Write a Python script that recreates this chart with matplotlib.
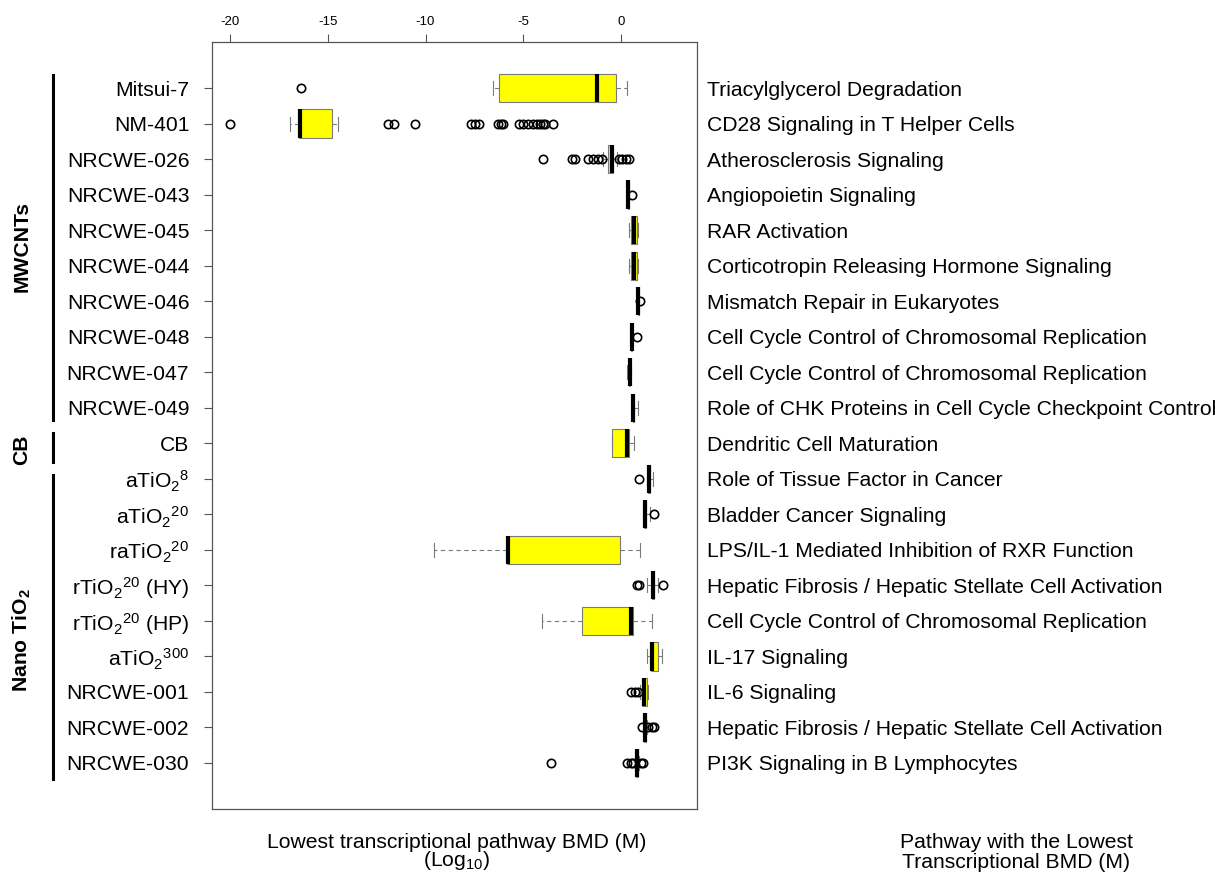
import matplotlib
matplotlib.use("Agg")
import matplotlib.pyplot as plt
from matplotlib.lines import Line2D
import numpy as np

plt.rcParams['font.family'] = ['Liberation Sans', 'DejaVu Sans']
plt.rcParams['mathtext.fontset'] = 'custom'
plt.rcParams['mathtext.rm'] = 'Liberation Sans'
plt.rcParams['mathtext.it'] = 'Liberation Sans:italic'
plt.rcParams['mathtext.bf'] = 'Liberation Sans:bold'

# Materials (top to bottom)
materials = [
    'Mitsui-7', 'NM-401', 'NRCWE-026', 'NRCWE-043', 'NRCWE-045',
    'NRCWE-044', 'NRCWE-046', 'NRCWE-048', 'NRCWE-047', 'NRCWE-049',
    'CB',
    r'aTiO$_\mathregular{2}$$^\mathregular{8}$',
    r'aTiO$_\mathregular{2}$$^\mathregular{20}$',
    r'raTiO$_\mathregular{2}$$^\mathregular{20}$',
    r'rTiO$_\mathregular{2}$$^\mathregular{20}$ (HY)',
    r'rTiO$_\mathregular{2}$$^\mathregular{20}$ (HP)',
    r'aTiO$_\mathregular{2}$$^\mathregular{300}$',
    'NRCWE-001', 'NRCWE-002', 'NRCWE-030',
]

# Pathway with the lowest transcriptional BMD for each material
pathways = [
    'Triacylglycerol Degradation',
    'CD28 Signaling in T Helper Cells',
    'Atherosclerosis Signaling',
    'Angiopoietin Signaling',
    'RAR Activation',
    'Corticotropin Releasing Hormone Signaling',
    'Mismatch Repair in Eukaryotes',
    'Cell Cycle Control of Chromosomal Replication',
    'Cell Cycle Control of Chromosomal Replication',
    'Role of CHK Proteins in Cell Cycle Checkpoint Control',
    'Dendritic Cell Maturation',
    'Role of Tissue Factor in Cancer',
    'Bladder Cancer Signaling',
    'LPS/IL-1 Mediated Inhibition of RXR Function',
    'Hepatic Fibrosis / Hepatic Stellate Cell Activation',
    'Cell Cycle Control of Chromosomal Replication',
    'IL-17 Signaling',
    'IL-6 Signaling',
    'Hepatic Fibrosis / Hepatic Stellate Cell Activation',
    'PI3K Signaling in B Lymphocytes',
]

# Box statistics of log10 BMD (M)
medians = [-1.21, -16.41, -0.46, 0.39, 0.70, 0.68, 0.90, 0.56, 0.48, 0.65,
           0.31, 1.45, 1.24, -5.79, 1.67, 0.53, 1.59, 1.19, 1.24, 0.82]
q1 = [-6.25, -16.50, -0.67, 0.37, 0.53, 0.53, 0.88, 0.54, 0.45, 0.63,
      -0.43, 1.40, 1.20, -5.84, 1.60, -2.00, 1.54, 1.11, 1.20, 0.78]
q3 = [-0.24, -14.79, -0.38, 0.41, 0.82, 0.82, 0.92, 0.58, 0.50, 0.67,
      0.43, 1.50, 1.30, -0.04, 1.72, 0.61, 1.93, 1.36, 1.30, 0.88]
whisker_low = [-6.56, -16.94, -0.89, 0.35, 0.44, 0.44, 0.86, 0.52, 0.30, 0.62,
               -0.43, 1.33, 1.15, -9.55, 1.36, -4.02, 1.33, 1.00, 1.15, 0.72]
whisker_high = [0.34, -14.50, -0.20, 0.43, 0.90, 0.90, 0.94, 0.60, 0.52, 0.87,
                0.68, 1.67, 1.50, 0.99, 1.93, 1.62, 2.13, 1.42, 1.35, 0.95]
outliers = [
    [-16.39],
    [-20.0, -11.91, -11.61, -10.54, -7.67, -7.46, -7.24, -6.27, -6.15, -6.01,
     -5.19, -4.99, -4.73, -4.48, -4.30, -4.13, -3.97, -3.88, -3.48],
    [-4.0, -2.47, -2.35, -1.66, -1.40, -1.14, -0.97, -0.07, 0.08, 0.26, 0.43],
    [0.58],
    [],
    [],
    [0.99],
    [0.85],
    [],
    [],
    [],
    [0.95],
    [1.72],
    [],
    [0.82, 0.95, 2.15],
    [],
    [],
    [0.51, 0.73, 0.90],
    [1.07, 1.41, 1.59, 1.72],
    [-3.57, 0.31, 0.51, 0.65, 1.04, 1.16],
]

x_ticks = [-20, -15, -10, -5, 0]

FS = 15.2
W, H = 1215, 873
fig = plt.figure(figsize=(W / 100, H / 100), dpi=100)
ax = fig.add_axes([212 / W, 1 - 809 / H, (697 - 212) / W, (809 - 42) / H])

stats = []
for i in range(len(materials)):
    stats.append(dict(med=medians[i], q1=q1[i], q3=q3[i],
                      whislo=whisker_low[i], whishi=whisker_high[i],
                      fliers=np.array(outliers[i])))

positions = np.arange(1, len(materials) + 1)
grey = '#7a7a7a'
ax.bxp(stats, positions=positions, vert=False, widths=0.8, capwidths=0.4,
       patch_artist=True, showfliers=True,
       boxprops=dict(facecolor='#ffff00', edgecolor=grey, linewidth=0.8),
       medianprops=dict(color='black', linewidth=3.0, solid_capstyle='butt'),
       whiskerprops=dict(color=grey, linewidth=0.8, linestyle=(0, (4, 3))),
       capprops=dict(color=grey, linewidth=0.8),
       flierprops=dict(marker='o', markerfacecolor='none', markeredgecolor='black',
                       markersize=6, markeredgewidth=1.2))

ax.set_xlim(-20.94, 3.91)
ax.set_ylim(len(materials) + 1.3, -0.3)

for s in ax.spines.values():
    s.set_color('#555555')
    s.set_linewidth(0.9)

ax.xaxis.tick_top()
ax.set_xticks(x_ticks)
ax.set_xticklabels([str(t) for t in x_ticks])
ax.tick_params(axis='x', which='both', top=True, bottom=False, length=5.8,
               width=0.8, color='#555555', labelsize=9.5, pad=4)

ax.set_yticks(positions)
ax.set_yticklabels(materials, fontsize=FS)
ax.tick_params(axis='y', length=5.8, width=0.8, color='#555555', pad=10.5)

ax2 = ax.twinx()
ax2.set_ylim(ax.get_ylim())
ax2.set_yticks(positions)
ax2.set_yticklabels(pathways, fontsize=FS)
ax2.tick_params(axis='y', length=0, pad=7)
for s in ax2.spines.values():
    s.set_visible(False)

# Group brackets and labels
bar_x = 53.3 / W
for y0, y1 in [(75, 420), (433, 462), (475, 779)]:
    fig.add_artist(Line2D([bar_x, bar_x], [1 - y0 / H, 1 - y1 / H],
                          color='black', linewidth=2.2,
                          transform=fig.transFigure))

fig.text(22 / W, 1 - 247 / H, 'MWCNTs', rotation=90, ha='center', va='center',
         fontsize=FS, fontweight='bold')
fig.text(22 / W, 1 - 450 / H, 'CB', rotation=90, ha='center', va='center',
         fontsize=FS, fontweight='bold')
fig.text(22 / W, 1 - 640 / H, r'Nano TiO$_\mathbf{2}$', rotation=90,
         ha='center', va='center', fontsize=FS, fontweight='bold')

fig.text(457 / W, 1 - 842 / H, 'Lowest transcriptional pathway BMD (M)',
         ha='center', va='center', fontsize=FS)
fig.text(457 / W, 1 - 861 / H, r'(Log$_\mathregular{10}$)',
         ha='center', va='center', fontsize=FS)
fig.text(1016 / W, 1 - 842 / H, 'Pathway with the Lowest',
         ha='center', va='center', fontsize=FS)
fig.text(1016 / W, 1 - 862 / H, 'Transcriptional BMD (M)',
         ha='center', va='center', fontsize=FS)

fig.savefig('out.png', dpi=100)
